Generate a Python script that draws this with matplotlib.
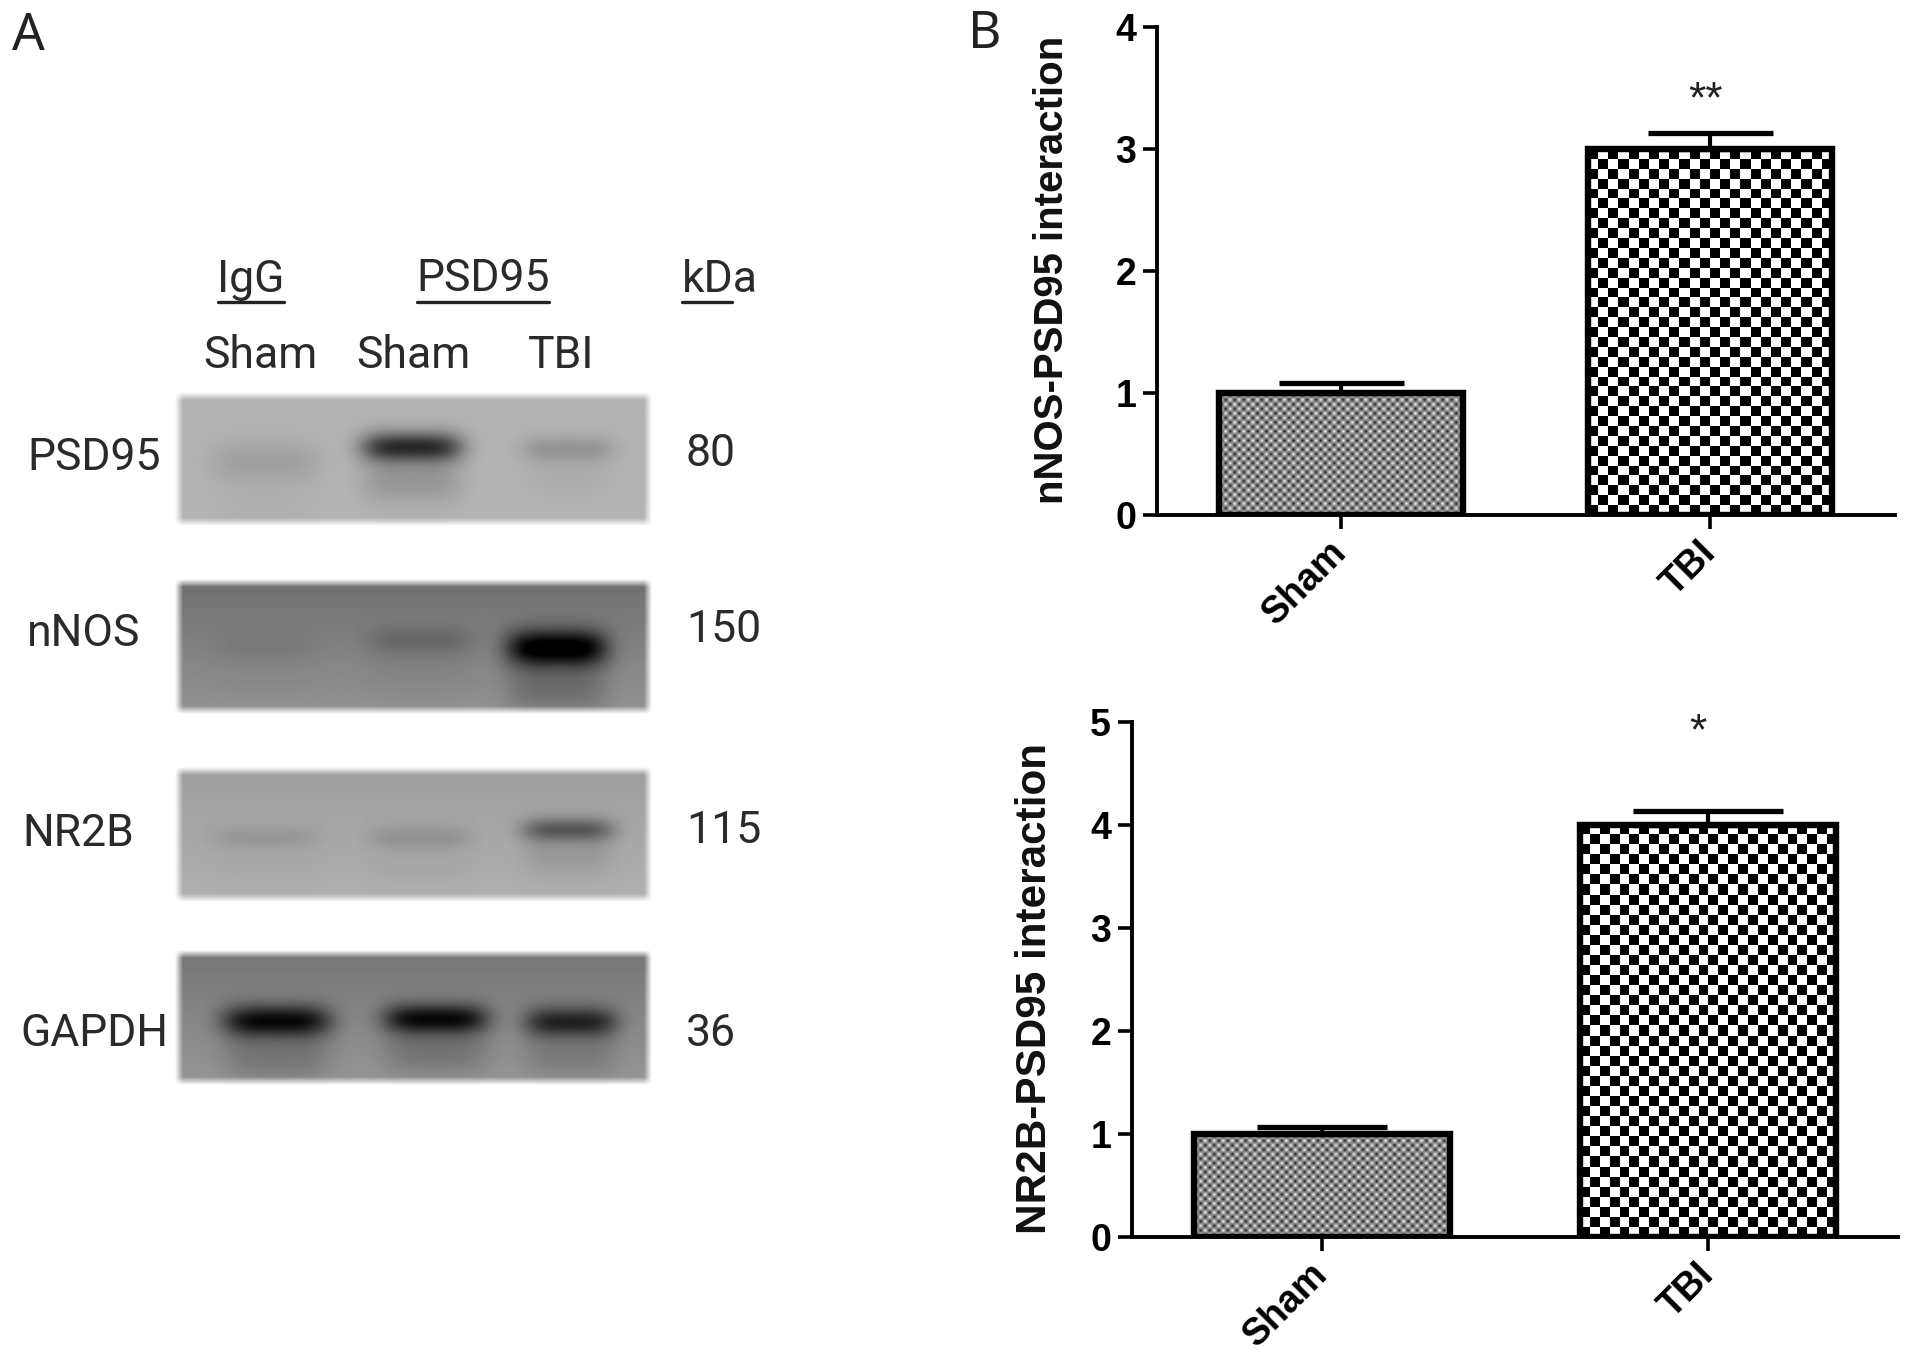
import numpy as np
import matplotlib
matplotlib.use("Agg")
import matplotlib.pyplot as plt

W, H = 1913, 1357

# 1. Data
groups = ["Sham", "TBI"]
nnos_vals = [1.0, 3.0]
nnos_err = [0.08, 0.13]
nr2b_vals = [1.0, 4.0]
nr2b_err = [0.07, 0.14]

blot_names = ["PSD95", "nNOS", "NR2B", "GAPDH"]
blot_kda = ["80", "150", "115", "36"]
# band darkness for the lanes Sham(IgG), Sham, TBI
psd95_bands = [20, 135, 32]
nnos_bands = [8, 24, 145]
nr2b_bands = [16, 22, 78]
gapdh_bands = [125, 125, 100]
# background grey of each blot, top and bottom
blot_bg = [(178, 180), (112, 146), (158, 176), (118, 150)]

# pixel boxes of the blots, left, right, top, bottom
blot_boxes = [(179, 648, 396, 522), (179, 648, 583, 710), (179, 648, 771, 898), (179, 648, 954, 1081)]
band_x = [[265, 412, 568], [265, 420, 557], [265, 420, 568], [277, 436, 571]]
band_y = [[462, 447, 449], [647, 641, 648], [838, 838, 830], [1021, 1019, 1022]]
band_hw = [[54, 50, 46], [52, 52, 50], [54, 52, 46], [54, 52, 46]]
band_hh = [[20, 15, 13], [14, 15, 18], [12, 12, 12], [16, 15, 15]]
blot_bands = [psd95_bands, nnos_bands, nr2b_bands, gapdh_bands]


def render_blot(box, bg, dark, xs, ys, hws, hhs):
    x0, x1, y0, y1 = box
    xx, yy = np.meshgrid(np.arange(x0 - 8, x1 + 8) + 0.5, np.arange(y0 - 8, y1 + 8) + 0.5)
    t = np.clip((yy - y0) / (y1 - y0), 0, 1)
    img = bg[0] + (bg[1] - bg[0]) * t
    for d, bx, by, hw, hh in zip(dark, xs, ys, hws, hhs):
        img = img - d * np.exp(-((xx - bx) / hw) ** 4 - ((yy - by) / hh) ** 2)
        # faint smear under the band
        img = img - 0.22 * d * np.exp(-((xx - bx) / hw) ** 4 - ((yy - by - 2.2 * hh) / (1.6 * hh)) ** 2)
    edge = (np.clip((xx - x0 + 4) / 8, 0, 1) * np.clip((x1 + 4 - xx) / 8, 0, 1)
            * np.clip((yy - y0 + 4) / 8, 0, 1) * np.clip((y1 + 4 - yy) / 8, 0, 1))
    img = 255 - (255 - np.clip(img, 0, 255)) * edge
    return img, (x0 - 8, x1 + 8, y1 + 8, y0 - 8)


def checker_bar(ax, rect, cell, interp, dark=0.0):
    # checker fill of a bar, limits must be set already
    bb = rect.get_window_extent()
    nx = int(round(bb.width / cell))
    ny = int(round(bb.height / cell))
    iy, ix = np.indices((ny, nx))
    arr = np.where((ix + iy) % 2 == 0, dark, 1.0)
    ext = (rect.get_x(), rect.get_x() + rect.get_width(), 0, rect.get_height())
    ax.imshow(arr, extent=ext, cmap="gray", vmin=0, vmax=1, aspect="auto",
              interpolation=interp, origin="lower", zorder=1)


def bar_panel(ax_px, xlim, ylim, yticks, vals, errs, ylabel, stars, star_y, label_xy, width, caps, lab_size):
    left, right, top, bottom = ax_px
    ax = fig.add_axes([left / W, 1 - bottom / H, (right - left) / W, (bottom - top) / H])
    ax.patch.set_alpha(0)
    rects = ax.bar([0, 1], vals, width=width, facecolor="none", edgecolor="black", linewidth=4.6, zorder=3)
    for i in range(2):
        ax.errorbar([i], [vals[i]], yerr=[[0], [errs[i]]], fmt="none", ecolor="black", elinewidth=3,
                    capsize=caps[i], capthick=3.8, zorder=2)
    ax.set_xlim(xlim)
    ax.set_ylim(ylim)
    checker_bar(ax, rects[0], 4.5, "bilinear", dark=0.08)
    checker_bar(ax, rects[1], 10, "nearest")
    ax.set_xlim(xlim)
    ax.set_ylim(ylim)
    ax.set_yticks(yticks)
    ax.set_xticks([0, 1])
    ax.set_xticklabels(groups, rotation=45, ha="right", va="center", rotation_mode="anchor",
                       fontsize=27, fontweight="bold", fontfamily="Liberation Sans")
    for lab in ax.get_yticklabels():
        lab.set_fontsize(27)
        lab.set_fontweight("bold")
        lab.set_fontfamily("Liberation Sans")
    ax.tick_params(axis="both", length=10, width=2.6)
    ax.tick_params(axis="x", pad=13)
    ax.tick_params(axis="y", pad=5)
    for s in ["top", "right"]:
        ax.spines[s].set_visible(False)
    for s in ["left", "bottom"]:
        ax.spines[s].set_linewidth(2.8)
    ov.text(label_xy[0], label_xy[1], ylabel, rotation=90, ha="center", va="center",
            fontsize=lab_size, fontweight="bold", fontfamily="Liberation Sans", color="#111111")
    ov.text(stars[1], star_y, stars[0], ha="center", va="center", fontsize=32,
            fontfamily="Liberation Sans", color="#222222")
    return ax


# 2. Figure and pixel overlay
fig = plt.figure(figsize=(W / 100, H / 100), dpi=100, facecolor="white")
ov = fig.add_axes([0, 0, 1, 1])
ov.axis("off")

# 3. Panel A, blots
for i in range(4):
    img, ext = render_blot(blot_boxes[i], blot_bg[i], blot_bands[i], band_x[i], band_y[i], band_hw[i], band_hh[i])
    ov.imshow(img, extent=ext, cmap="gray", vmin=0, vmax=255, aspect="auto", interpolation="bilinear")
ov.set_xlim(0, W)
ov.set_ylim(H, 0)

txt = dict(fontfamily="Roboto", fontsize=32, color="#2a2a2a", va="center")
ov.text(27, 458, blot_names[0], ha="left", **txt)
ov.text(27, 634, blot_names[1], ha="left", **txt)
ov.text(22, 834, blot_names[2], ha="left", **txt)
ov.text(20, 1034, blot_names[3], ha="left", **txt)
for s, y in zip(blot_kda, [454, 630, 831, 1034]):
    ov.text(686, y, s, ha="left", **txt)
ov.text(251, 280, "IgG", ha="center", **txt)
ov.text(483, 279, "PSD95", ha="center", **txt)
ov.text(720, 280, "kDa", ha="center", **txt)
ov.text(260, 356, "Sham", ha="center", **txt)
ov.text(413, 356, "Sham", ha="center", **txt)
ov.text(561, 356, "TBI", ha="center", **txt)
for x0, x1 in [(218, 284), (417, 549), (682, 732)]:
    ov.plot([x0, x1], [302, 302], color="#222222", lw=2.4, solid_capstyle="round")

ov.text(12, 36, "A", fontfamily="Noto Sans", fontsize=37, ha="left", va="center", color="#222222")
ov.text(968, 34, "B", fontfamily="Noto Sans", fontsize=37, ha="left", va="center", color="#222222")

# 4. Panel B, bars
bar_panel((1157, 1895, 27, 515), (-0.4986, 1.501), (0, 4), [0, 1, 2, 3, 4], nnos_vals, nnos_err,
          "nNOS-PSD95 interaction", ("**", 1706), 101, (1052, 270), 0.66, [45, 45], 28.9)
bar_panel((1132, 1898, 722, 1237), (-0.492, 1.492), (0, 5), [0, 1, 2, 3, 4, 5], nr2b_vals, nr2b_err,
          "NR2B-PSD95 interaction", ("*", 1698), 733, (1035, 989), 0.665, [47, 54], 30.4)

fig.savefig("out.png", dpi=100)
